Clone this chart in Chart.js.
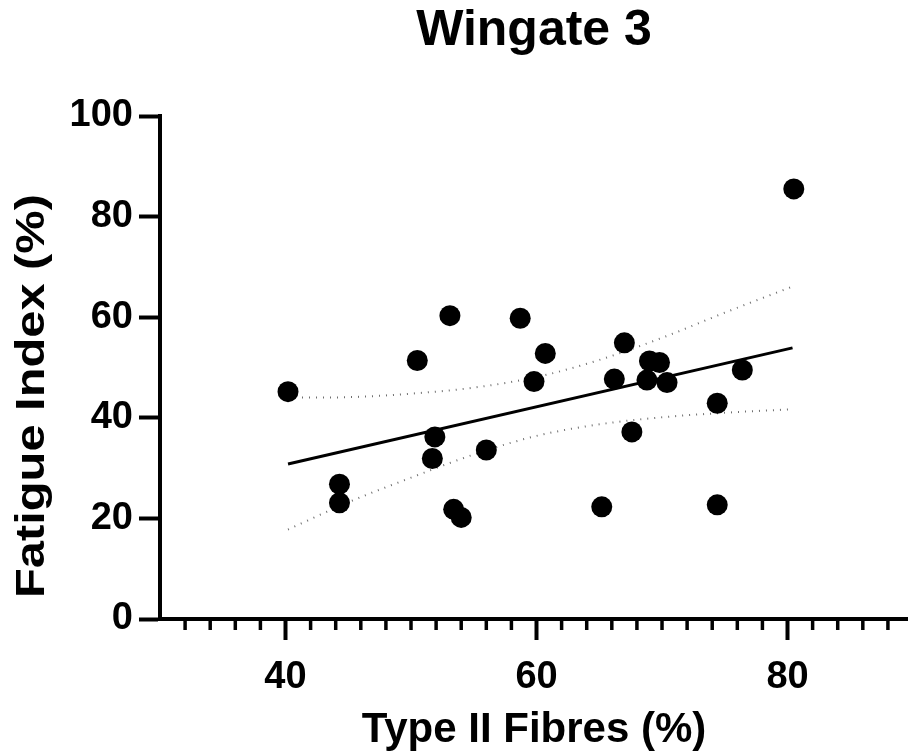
<!DOCTYPE html>
<html>
<head>
<meta charset="utf-8">
<title>Wingate 3</title>
<script src="https://cdn.jsdelivr.net/npm/chart.js@4.4.1/dist/chart.umd.min.js"></script>
<style>
  html, body { margin: 0; padding: 0; background: #fff; }
  canvas { display: block; }
</style>
</head>
<body>
<canvas id="wingate" width="908" height="756"></canvas>
<script>
// Individual subjects: % type II fibres vs fatigue index
const fibres = [40.2, 44.3, 44.3, 50.5, 51.7, 51.9, 53.1, 53.4, 54.0, 56.0, 58.7, 59.8, 60.7,
                65.2, 66.2, 67.0, 67.6, 68.8, 69.0, 69.8, 70.4, 74.4, 74.4, 76.4, 80.5];
const fatigue = [45.2, 26.8, 23.1, 51.4, 31.9, 36.2, 60.3, 21.8, 20.2, 33.6, 59.8, 47.2, 52.8,
                 22.3, 47.7, 54.9, 37.2, 47.5, 51.3, 51.0, 47.0, 42.9, 22.7, 49.5, 85.5];

// Regression line and its 95% band
const fitX = [40.2, 80.4];
const fitY = [30.8, 53.9];
const bandX = [40.2, 45, 50, 55, 60, 65, 70, 75, 80.4];
const bandUpper = [44.0, 44.1, 44.8, 46.0, 48.1, 51.5, 55.9, 60.9, 66.1];
const bandLower = [17.8, 23.2, 28.1, 32.7, 36.4, 38.7, 40.1, 41.0, 41.7];

// Axis ticks
const xMajorTicks = [40, 60, 80];
const xMinorTicks = [32, 34, 36, 38, 42, 44, 46, 48, 50, 52, 54, 56, 58,
                     62, 64, 66, 68, 70, 72, 74, 76, 78, 82, 84, 86, 88];
const yTicks = [0, 20, 40, 60, 80, 100];

const FONT = '"Liberation Sans", Arial, Helvetica, sans-serif';

const toPoints = (xs, ys) => xs.map((x, i) => ({ x: x, y: ys[i] }));

// short ticks between the labelled ones on the x axis
const minorTickPlugin = {
    id: 'minorTicks',
    afterDraw(chart) {
        const ctx = chart.ctx;
        const xScale = chart.scales.x;
        const bottom = chart.chartArea.bottom;
        ctx.save();
        ctx.strokeStyle = '#000';
        ctx.lineWidth = 3.5;
        xMinorTicks.forEach(v => {
            const px = xScale.getPixelForValue(v);
            ctx.beginPath();
            ctx.moveTo(px, bottom);
            ctx.lineTo(px, bottom + 11);
            ctx.stroke();
        });
        ctx.restore();
    }
};

// y axis title, drawn a bit wider than normal like the original
const yTitlePlugin = {
    id: 'yTitle',
    afterDraw(chart) {
        const ctx = chart.ctx;
        const area = chart.chartArea;
        ctx.save();
        ctx.translate(33, area.bottom - 223);
        ctx.rotate(-Math.PI / 2);
        ctx.scale(1.22, 1);
        ctx.font = 'bold 40px ' + FONT;
        ctx.textAlign = 'center';
        ctx.textBaseline = 'middle';
        ctx.fillStyle = '#000';
        ctx.fillText('Fatigue Index (%)', 0, 0);
        ctx.restore();
    }
};

const ctx = document.getElementById('wingate').getContext('2d');
new Chart(ctx, {
    type: 'scatter',
    data: {
        datasets: [
            {
                label: 'Subjects',
                data: toPoints(fibres, fatigue),
                backgroundColor: '#000',
                borderWidth: 0,
                pointRadius: 10.5,
                pointHoverRadius: 10.5,
            },
            {
                type: 'line',
                label: 'Fit',
                data: toPoints(fitX, fitY),
                borderColor: '#000',
                borderWidth: 3,
                pointRadius: 0,
                fill: false,
            },
            {
                type: 'line',
                label: 'Upper 95%',
                data: toPoints(bandX, bandUpper),
                borderColor: '#6e6e6e',
                borderWidth: 2,
                borderDash: [1, 6],
                cubicInterpolationMode: 'monotone',
                pointRadius: 0,
                fill: false,
            },
            {
                type: 'line',
                label: 'Lower 95%',
                data: toPoints(bandX, bandLower),
                borderColor: '#6e6e6e',
                borderWidth: 2,
                borderDash: [1, 6],
                cubicInterpolationMode: 'monotone',
                pointRadius: 0,
                fill: false,
            },
        ],
    },
    options: {
        responsive: false,
        devicePixelRatio: 1,
        animation: false,
        layout: { padding: 0, autoPadding: false },
        plugins: {
            legend: { display: false },
            tooltip: { enabled: false },
            title: {
                display: true,
                text: 'Wingate 3',
                color: '#000',
                fullSize: false,
                font: { family: FONT, size: 50, weight: 'bold' },
                padding: { top: 1, bottom: 55 },
            },
        },
        scales: {
            x: {
                type: 'linear',
                min: 30,
                max: 89.6,
                afterBuildTicks: scale => {
                    scale.ticks = xMajorTicks.map(v => ({ value: v }));
                },
                afterFit: scale => { scale.height = 137; },
                ticks: {
                    color: '#000',
                    font: { family: FONT, size: 38, weight: 'bold' },
                    padding: 15,
                    maxRotation: 0,
                    autoSkip: false,
                },
                grid: {
                    drawOnChartArea: false,
                    tickLength: 21,
                    tickWidth: 4,
                    tickColor: '#000',
                },
                border: { color: '#000', width: 4 },
                title: {
                    display: true,
                    text: 'Type II Fibres (%)',
                    color: '#000',
                    font: { family: FONT, size: 42, weight: 'bold' },
                    padding: { top: 0, bottom: 0 },
                },
            },
            y: {
                min: 0,
                max: 100,
                afterBuildTicks: scale => {
                    scale.ticks = yTicks.map(v => ({ value: v }));
                },
                afterFit: scale => { scale.width = 160; },
                ticks: {
                    color: '#000',
                    font: { family: FONT, size: 38, weight: 'bold' },
                    padding: 6,
                },
                grid: {
                    drawOnChartArea: false,
                    tickLength: 21,
                    tickWidth: 4,
                    tickColor: '#000',
                },
                border: { color: '#000', width: 4 },
            },
        },
    },
    plugins: [minorTickPlugin, yTitlePlugin],
});
</script>
</body>
</html>
